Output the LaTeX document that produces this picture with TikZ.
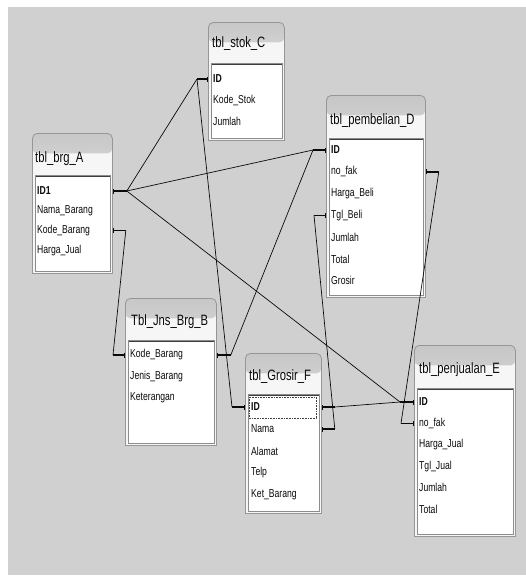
\documentclass[tikz,border=0pt]{standalone}
\usepackage{fontspec}
\setmainfont{Liberation Sans}[FakeStretch=0.75]
\usetikzlibrary{arrows.meta,calc}
\definecolor{bggray}{RGB}{208,208,208}
\definecolor{framegray}{RGB}{150,150,150}
\definecolor{framefill}{RGB}{246,246,246}
\definecolor{listedge}{RGB}{60,60,60}
\definecolor{ink}{RGB}{10,10,10}
\tikzset{
  tframe/.style={draw=framegray, fill=framefill, rounded corners=5pt, line width=0.8pt,
    anchor=north west, inner sep=0pt,
    path picture={\fill[top color=black!22, bottom color=white]
      (path picture bounding box.north west) rectangle ([yshift=-20pt]path picture bounding box.north east);}},
  tbody/.style={draw=framegray, fill=framefill, line width=0.8pt},
  tlist/.style={draw=black!45, fill=white, anchor=north west, inner sep=0pt, line width=0.6pt,
    path picture={\draw[listedge, line width=3pt] (path picture bounding box.north west) -- (path picture bounding box.north east);
      \draw[black!55, line width=2pt] (path picture bounding box.north west) -- (path picture bounding box.south west);}},
  ttitle/.style={anchor=west, inner sep=0pt, text=ink, font=\fontsize{15}{17}\selectfont},
  fld/.style={anchor=west, inner sep=0pt, text=ink, font=\fontsize{11.5}{13}\selectfont},
  selbox/.style={draw=black!75, densely dotted, line width=0.6pt},
  stub/.style={{Bar[width=5pt,line width=1pt]}-, line width=1.4pt, draw=ink},
  rel/.style={line width=0.7pt, draw=ink},
}
\begin{document}
\begin{tikzpicture}[x=1pt, y=-1pt]
  \useasboundingbox (0,0) rectangle (526,576);
  \fill[bggray] (8,7) rectangle (526,575);
  % tbl_brg_A
  \node[tframe, minimum width=80pt, minimum height=140pt] (brgA) at (32,133) {};
  \draw[tbody] (brgA.west) |- (brgA.south east) -- (brgA.east);
  \node[ttitle] (brgA-title) at (35,159) {tbl\_brg\_A};
  \node[tlist, minimum width=75pt, minimum height=96pt] (brgA-list) at (35,175) {};
  \foreach \t [count=\i, evaluate=\i as \y using 191+19.7*(\i-1)] in {\textbf{ID1},Nama\_Barang,Kode\_Barang,Harga\_Jual}
    \node[fld] (brgA-\i) at (37,\y) {\t};
  % tbl_stok_C
  \node[tframe, minimum width=76pt, minimum height=118pt] (stokC) at (208,22) {};
  \draw[tbody] (stokC.west) |- (stokC.south east) -- (stokC.east);
  \node[ttitle] (stokC-title) at (212,44) {tbl\_stok\_C};
  \node[tlist, minimum width=71pt, minimum height=75pt] (stokC-list) at (211,63) {};
  \foreach \t [count=\i, evaluate=\i as \y using 79+21*(\i-1)] in {\textbf{ID},Kode\_Stok,Jumlah}
    \node[fld] (stokC-\i) at (213,\y) {\t};
  % tbl_pembelian_D
  \node[tframe, minimum width=99pt, minimum height=202pt] (pembelianD) at (326,95) {};
  \draw[tbody] (pembelianD.west) |- (pembelianD.south east) -- (pembelianD.east);
  \node[ttitle] (pembelianD-title) at (330,121) {tbl\_pembelian\_D};
  \node[tlist, minimum width=94pt, minimum height=157pt] (pembelianD-list) at (329,138) {};
  \foreach \t [count=\i, evaluate=\i as \y using 150+21.8*(\i-1)] in {\textbf{ID},no\_fak,Harga\_Beli,Tgl\_Beli,Jumlah,Total,Grosir}
    \node[fld] (pembelianD-\i) at (331,\y) {\t};
  % Tbl_Jns_Brg_B
  \node[tframe, minimum width=91pt, minimum height=147pt] (jnsB) at (125,298) {};
  \draw[tbody] (jnsB.west) |- (jnsB.south east) -- (jnsB.east);
  \node[ttitle] (jnsB-title) at (131,322) {Tbl\_Jns\_Brg\_B};
  \node[tlist, minimum width=86pt, minimum height=103pt] (jnsB-list) at (128,340) {};
  \foreach \t [count=\i, evaluate=\i as \y using 355+21.5*(\i-1)] in {Kode\_Barang,Jenis\_Barang,Keterangan}
    \node[fld] (jnsB-\i) at (130,\y) {\t};
  % tbl_Grosir_F
  \node[tframe, minimum width=76pt, minimum height=160pt] (grosirF) at (245,353) {};
  \draw[tbody] (grosirF.west) |- (grosirF.south east) -- (grosirF.east);
  \node[ttitle] (grosirF-title) at (249,377) {tbl\_Grosir\_F};
  \node[tlist, minimum width=71pt, minimum height=117pt] (grosirF-list) at (248,394) {};
  \draw[selbox] (249,397) rectangle (316,418);
  \foreach \t [count=\i, evaluate=\i as \y using 407+22*(\i-1)] in {\textbf{ID},Nama,Alamat,Telp,Ket\_Barang}
    \node[fld] (grosirF-\i) at (251,\y) {\t};
  % tbl_penjualan_E
  \node[tframe, minimum width=101pt, minimum height=191pt] (penjualanE) at (414,345) {};
  \draw[tbody] (penjualanE.west) |- (penjualanE.south east) -- (penjualanE.east);
  \node[ttitle] (penjualanE-title) at (419,370) {tbl\_penjualan\_E};
  \node[tlist, minimum width=96pt, minimum height=146pt] (penjualanE-list) at (417,388) {};
  \foreach \t [count=\i, evaluate=\i as \y using 402+21.4*(\i-1)] in {\textbf{ID},no\_fak,Harga\_Jual,Tgl\_Jual,Jumlah,Total}
    \node[fld] (penjualanE-\i) at (419,\y) {\t};
  % relationship stubs
  \draw[stub] (brgA-1 -| brgA.east) -- ++(14,0) coordinate (aId);
  \draw[stub] (brgA-3 -| brgA.east) -- ++(13,0) coordinate (aKode);
  \draw[stub] (stokC-1 -| stokC.west) -- ++(-11,0) coordinate (cId);
  \draw[stub] (pembelianD-1 -| pembelianD.west) -- ++(-13,0) coordinate (dId);
  \draw[stub] (pembelianD-2 -| pembelianD.east) -- ++(13,0) coordinate (dFak);
  \draw[stub] (pembelianD-4 -| pembelianD.west) -- ++(-12,0) coordinate (dTgl);
  \draw[stub] (jnsB-1 -| jnsB.west) -- ++(-12,0) coordinate (bKodeL);
  \draw[stub] (jnsB-1 -| jnsB.east) -- ++(14,0) coordinate (bKodeR);
  \draw[stub] (grosirF-1 -| grosirF.west) -- ++(-13,0) coordinate (fIdL);
  \draw[stub] (grosirF-1 -| grosirF.east) -- ++(13,0) coordinate (fIdR);
  \draw[stub] (grosirF-2 -| grosirF.east) -- ++(13,0) coordinate (fNama);
  \draw[stub] (penjualanE-1 -| penjualanE.west) -- ++(-14,0) coordinate (eId);
  \draw[stub] (penjualanE-2 -| penjualanE.west) -- ++(-13,0) coordinate (eFak);
  % relationships
  \draw[rel] (aId) -- (cId);
  \draw[rel] (aId) -- (dId);
  \draw[rel] (aId) -- (eId);
  \draw[rel] (aKode) -- (bKodeL);
  \draw[rel] (bKodeR) -- (dId);
  \draw[rel] (cId) -- (fIdL);
  \draw[rel] (fIdR) -- (eId);
  \draw[rel] (dTgl) -- (fNama);
  \draw[rel] (dFak) -- (eFak);
\end{tikzpicture}
\end{document}
